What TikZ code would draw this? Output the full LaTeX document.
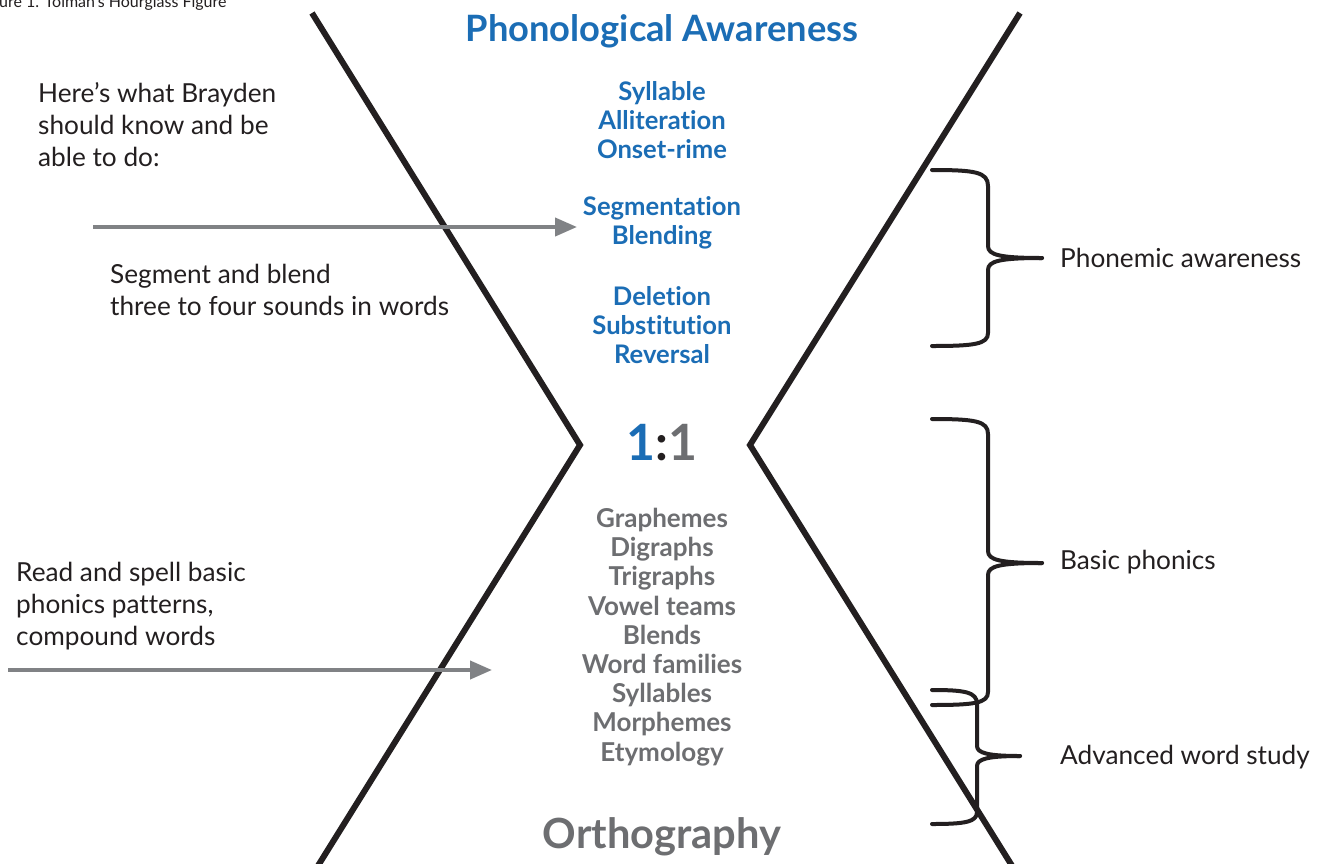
\documentclass[tikz,border=0pt]{standalone}
\usepackage{fontspec}
\setmainfont[Ligatures=NoCommon]{Lato}
\usetikzlibrary{arrows.meta}
\definecolor{pblue}{HTML}{1B6DB5}
\definecolor{pgray}{HTML}{6D6E71}
\definecolor{pblack}{HTML}{231F20}
\definecolor{agray}{HTML}{808285}
\tikzset{
  hour/.style={line width=6pt, draw=pblack, miter limit=20},
  brace/.style={line width=4pt, draw=pblack, line cap=round, line join=round},
  arr/.style={line width=4pt, draw=agray, -{Triangle[length=22pt,width=18pt]}},
  bluelab/.style={text=pblue, font=\fontsize{25.6}{29}\selectfont\bfseries, align=center, inner sep=0pt},
  graylab/.style={text=pgray, font=\fontsize{26}{29.2}\selectfont\bfseries, align=center, inner sep=0pt},
  note/.style={text=pblack, font=\fontsize{26.2}{32}\selectfont, align=left, inner sep=0pt, anchor=north west},
  side/.style={text=pblack, font=\fontsize{26.2}{32}\selectfont, inner sep=0pt, anchor=west},
}
\begin{document}
\begin{tikzpicture}[x=1pt,y=-1pt]
\useasboundingbox[fill=white] (0,0) rectangle (1318,863);
% caption (cut off at the top edge as in the reference)
\node[anchor=base west, inner sep=0pt, text=pblack, font=\fontsize{16}{16}\selectfont] (cap) at (-1,7) {ure 1. Tolman’s Hourglass Figure};
% hourglass
\draw[hour] (312,13) -- (580,445) -- (306,885);
\draw[hour] (1020,13) -- (750,445) -- (1024,885);
% titles
\node[text=pblue, font=\fontsize{36.3}{36}\selectfont\bfseries, inner sep=0pt] (pa) at (662,31) {Phonological Awareness};
\node[text=pgray, font=\fontsize{41.6}{42}\selectfont\bfseries, inner sep=0pt] (orth) at (662,837) {Orthography};
\node[font=\fontsize{50}{50}\selectfont\bfseries, inner sep=0pt] (ratio) at (662,443) {\textcolor{pblue}{1}\textcolor{pblack}{:}\textcolor{pgray}{1}};
% blue groups
\node[bluelab] (g1) at (662,120) {Syllable\\Alliteration\\Onset-rime};
\node[bluelab] (g2) at (662,223) {Segmentation\\Blending};
\node[bluelab] (g3) at (662,325) {Deletion\\Substitution\\Reversal};
% gray list
\node[graylab] (g4) at (662,637) {Graphemes\\Digraphs\\Trigraphs\\Vowel teams\\Blends\\Word families\\Syllables\\Morphemes\\Etymology};
% left notes
\node[note] (n1) at (38,82) {Here’s what Brayden\\should know and be\\able to do:};
\node[note] (n2) at (110,264) {Segment and blend\\three to four sounds in words};
\node[note] (n3) at (16,562) {Read and spell basic\\phonics patterns,\\compound words};
% arrows
\coordinate (a1s) at (93,227);
\coordinate (a1e) at (577,227);
\coordinate (a2s) at (8,670);
\coordinate (a2e) at (492,670);
\draw[arr] (a1s) -- (a1e);
\draw[arr] (a2s) -- (a2e);
% braces
\coordinate (b1) at (1042,258);
\coordinate (b2) at (1042,563);
\coordinate (b3) at (1020,756);
\draw[brace] (932,170) .. controls (975,170) and (988,172) .. (988,186) -- (988,246) .. controls (988,255) and (1000,258) .. (b1);
\draw[brace] (b1) .. controls (1000,258) and (988,261) .. (988,270) -- (988,333) .. controls (988,344) and (975,346) .. (932,346);
\draw[brace] (932,419) .. controls (975,419) and (988,421) .. (988,434) -- (988,551) .. controls (988,560) and (1000,563) .. (b2);
\draw[brace] (b2) .. controls (1000,563) and (988,566) .. (988,575) -- (988,692) .. controls (988,703) and (975,705) .. (932,705);
\draw[brace] (932,690) .. controls (965,690) and (977,692) .. (977,704) -- (977,746) .. controls (977,753) and (988,756) .. (b3);
\draw[brace] (b3) .. controls (988,756) and (977,759) .. (977,766) -- (977,812) .. controls (977,822) and (965,824) .. (932,824);
% side labels
\node[side] (s1) at (1060,258) {Phonemic awareness};
\node[side] (s2) at (1060,562) {Basic phonics};
\node[side] (s3) at (1060,757) {Advanced word study};
\end{tikzpicture}
\end{document}
